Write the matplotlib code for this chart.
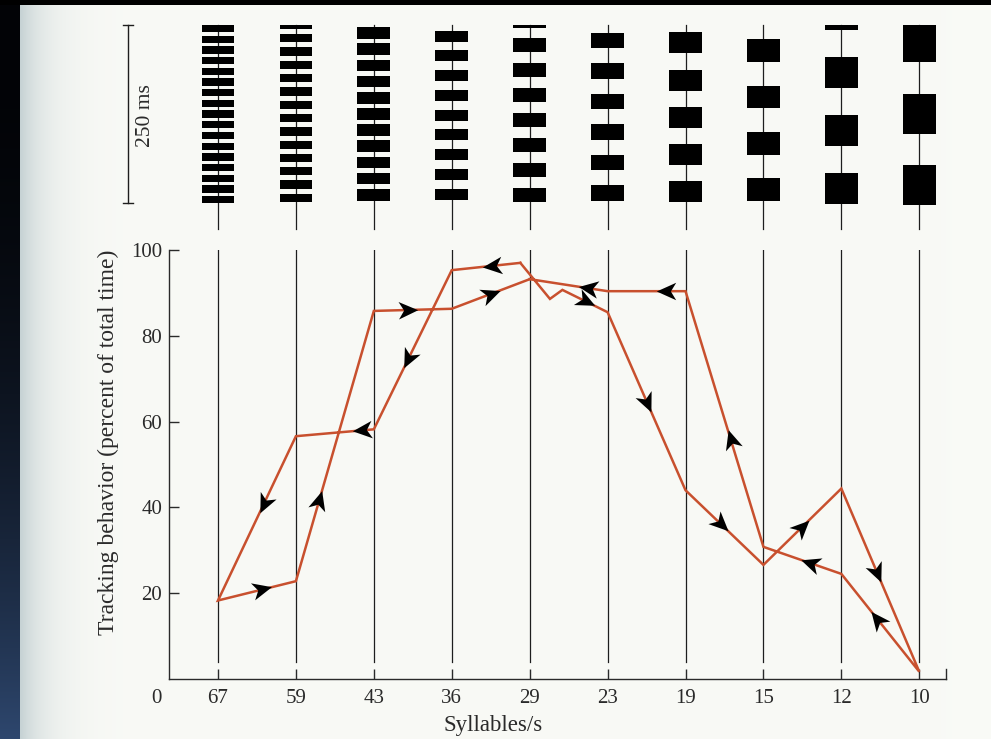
import numpy as np
import matplotlib
matplotlib.use("Agg")
import matplotlib.pyplot as plt
from matplotlib.path import Path
from matplotlib.markers import MarkerStyle
from matplotlib.transforms import Affine2D
from matplotlib.patches import Rectangle

plt.rcParams['font.family'] = ['Liberation Serif', 'DejaVu Serif']

# syllable rates along the x axis
rates = ["67", "59", "43", "36", "29", "23", "19", "15", "12", "10"]

# pulse trains shown in the 250 ms window above each rate (ms)
pulse_onset = [0.0, -6.1, 3.2, 8.0, -16.1, 10.8, 10.3, 20.1, -36.9, -3.8]
pulse_period = [15.0, 18.7, 22.7, 27.7, 34.9, 42.8, 52.2, 65.0, 81.4, 100.1]
pulse_length = [10.3, 11.7, 16.4, 15.4, 19.7, 22.0, 29.5, 31.9, 43.9, 56.2]
pulse_count = [17, 14, 11, 9, 8, 6, 5, 4, 4, 3]

# trial run toward the fast rates and back (x = slot on the rate axis)
fast_x = [4.88, 4, 3, 2, 1, 2, 3, 4, 5]
fast_y = [97.0, 95.3, 58.2, 56.6, 18.3, 22.8, 85.8, 86.3, 93.2]

# trial run toward the slow rates and back
slow_x = [4.88, 5.26, 5.42, 6, 7, 8, 9, 10, 9, 8, 7, 6, 5]
slow_y = [97.0, 88.6, 90.7, 85.5, 44.0, 26.6, 44.4, 1.7, 24.5, 30.8, 90.4, 90.4, 93.2]

# (segment, fraction along segment) for the direction arrows
fast_arrows = [(0, 0.41), (1, 0.56), (2, 0.15), (3, 0.41), (4, 0.57), (5, 0.30), (6, 0.44), (7, 0.51)]
slow_arrows = [(2, 0.52), (3, 0.51), (4, 0.45), (5, 0.50), (6, 0.46), (7, 0.54), (8, 0.40),
               (9, 0.42), (10, 0.25), (11, 0.25)]

W, H = 991, 739
PAGE = np.array([249, 250, 246]) / 255
LINE = '#c8502e'
INK = '#1e1e1e'
TXT = '#2a2a2a'


def slot(px):
    # pixel column -> slot on the rate axis
    return 1 + (px - 218) / 77.92


def ms(py):
    return (py - 25) * 1.404


def fig_rect(x0, y0, x1, y1):
    return [x0 / W, 1 - y1 / H, (x1 - x0) / W, (y1 - y0) / H]


fig = plt.figure(figsize=(W / 100, H / 100), dpi=100)

# scanned page: dark binding strip on the left, dark edge on top
bg = np.ones((H, W, 3)) * PAGE
cols = np.arange(W)
shade = np.exp(-(cols - 20) / 26.0)
shade[cols < 20] = 0
tint = np.array([198, 210, 212]) / 255
bg = bg - (PAGE - tint)[None, None, :] * shade[None, :, None]
rows = np.linspace(0, 1, H)
strip = (rows ** 2.2)[:, None] * np.array([44, 68, 104]) / 255 + np.array([2, 3, 6]) / 255
bg[:, :20, :] = strip[:, None, :]
bg[:5, :, :] = 0.0
ax_bg = fig.add_axes([0, 0, 1, 1], zorder=-10)
ax_bg.imshow(bg, extent=[0, 1, 0, 1], aspect='auto', interpolation='nearest')
ax_bg.axis('off')

# --- pulse trains ---
ax_top = fig.add_axes(fig_rect(100, 12, 946, 240))
ax_top.set_xlim(slot(100), slot(946))
ax_top.set_ylim(ms(240), ms(12))
ax_top.axis('off')

for i in range(len(rates)):
    x = i + 1
    ax_top.plot([x, x], [0, ms(229)], color=INK, lw=0.9, zorder=1)
    for k in range(pulse_count[i]):
        t0 = max(pulse_onset[i] + k * pulse_period[i], 0.0)
        t1 = min(pulse_onset[i] + k * pulse_period[i] + pulse_length[i], 253.0)
        if t1 <= t0:
            continue
        ax_top.add_patch(Rectangle((x - 0.21, t0), 0.42, t1 - t0,
                                   facecolor='black', edgecolor='none', zorder=2))

# 250 ms scale bar
sx = slot(128)
ax_top.plot([sx, sx], [0, 250], color=INK, lw=1.0, clip_on=False)
for t in (0, 250):
    ax_top.plot([sx - 0.07, sx + 0.07], [t, t], color=INK, lw=1.0, clip_on=False)
fig.text(145 / W, 1 - 116 / H, '250 ms', rotation=90, ha='center', va='center',
         fontsize=15.5, color=TXT)

# --- tracking plot ---
ax = fig.add_axes(fig_rect(169, 250, 946, 679))
ax.set_facecolor('none')
ax.set_xlim(slot(169), slot(946))
ax.set_ylim(0, 100)
for s in ('top', 'right'):
    ax.spines[s].set_visible(False)
for s in ('left', 'bottom'):
    ax.spines[s].set_color(TXT)
    ax.spines[s].set_linewidth(1.0)

ax.set_xticks(range(1, len(rates) + 1))
ax.set_xticklabels(rates)
ax.set_yticks([20, 40, 60, 80, 100])
ax.tick_params(axis='both', direction='in', length=7.2, width=1.0, color=TXT,
               labelsize=15, labelcolor=TXT)
ax.tick_params(axis='x', pad=7.5)
ax.tick_params(axis='y', pad=5)

# rate guide lines
for i in range(len(rates)):
    ax.plot([i + 1, i + 1], [4, 100], color=INK, lw=0.9, zorder=1)
ax.plot([slot(946)] * 2, [0, 2.3], color=TXT, lw=1.0, clip_on=False)

ax.annotate('0', xy=(slot(156), 0), xytext=(0, -7.5), textcoords='offset points',
            ha='center', va='top', fontsize=15, color=TXT, annotation_clip=False)

ax.plot(fast_x, fast_y, color=LINE, lw=1.8, zorder=3, solid_joinstyle='miter')
ax.plot(slow_x, slow_y, color=LINE, lw=1.8, zorder=3, solid_joinstyle='miter')

head = Path([(1.0, 0.0), (-1.0, 0.9), (-0.45, 0.0), (-1.0, -0.9), (1.0, 0.0)],
            [Path.MOVETO, Path.LINETO, Path.LINETO, Path.LINETO, Path.CLOSEPOLY])


def draw_arrows(xs, ys, spots):
    for seg, f in spots:
        x0, y0, x1, y1 = xs[seg], ys[seg], xs[seg + 1], ys[seg + 1]
        p0 = ax.transData.transform((x0, y0))
        p1 = ax.transData.transform((x1, y1))
        ang = np.degrees(np.arctan2(p1[1] - p0[1], p1[0] - p0[0]))
        m = MarkerStyle(head, transform=Affine2D().rotate_deg(ang))
        ax.plot(x0 + f * (x1 - x0), y0 + f * (y1 - y0), marker=m, ms=14,
                color='black', mec='black', mew=0, zorder=4)


draw_arrows(fast_x, fast_y, fast_arrows)
draw_arrows(slow_x, slow_y, slow_arrows)

fig.text(108 / W, 1 - 442 / H, 'Tracking behavior (percent of total time)', rotation=90,
         ha='center', va='center', fontsize=17, color=TXT)
fig.text(493 / W, 1 - 726 / H, 'Syllables/s', ha='center', va='center',
         fontsize=16.5, color=TXT)

fig.savefig('out.png', dpi=100)
